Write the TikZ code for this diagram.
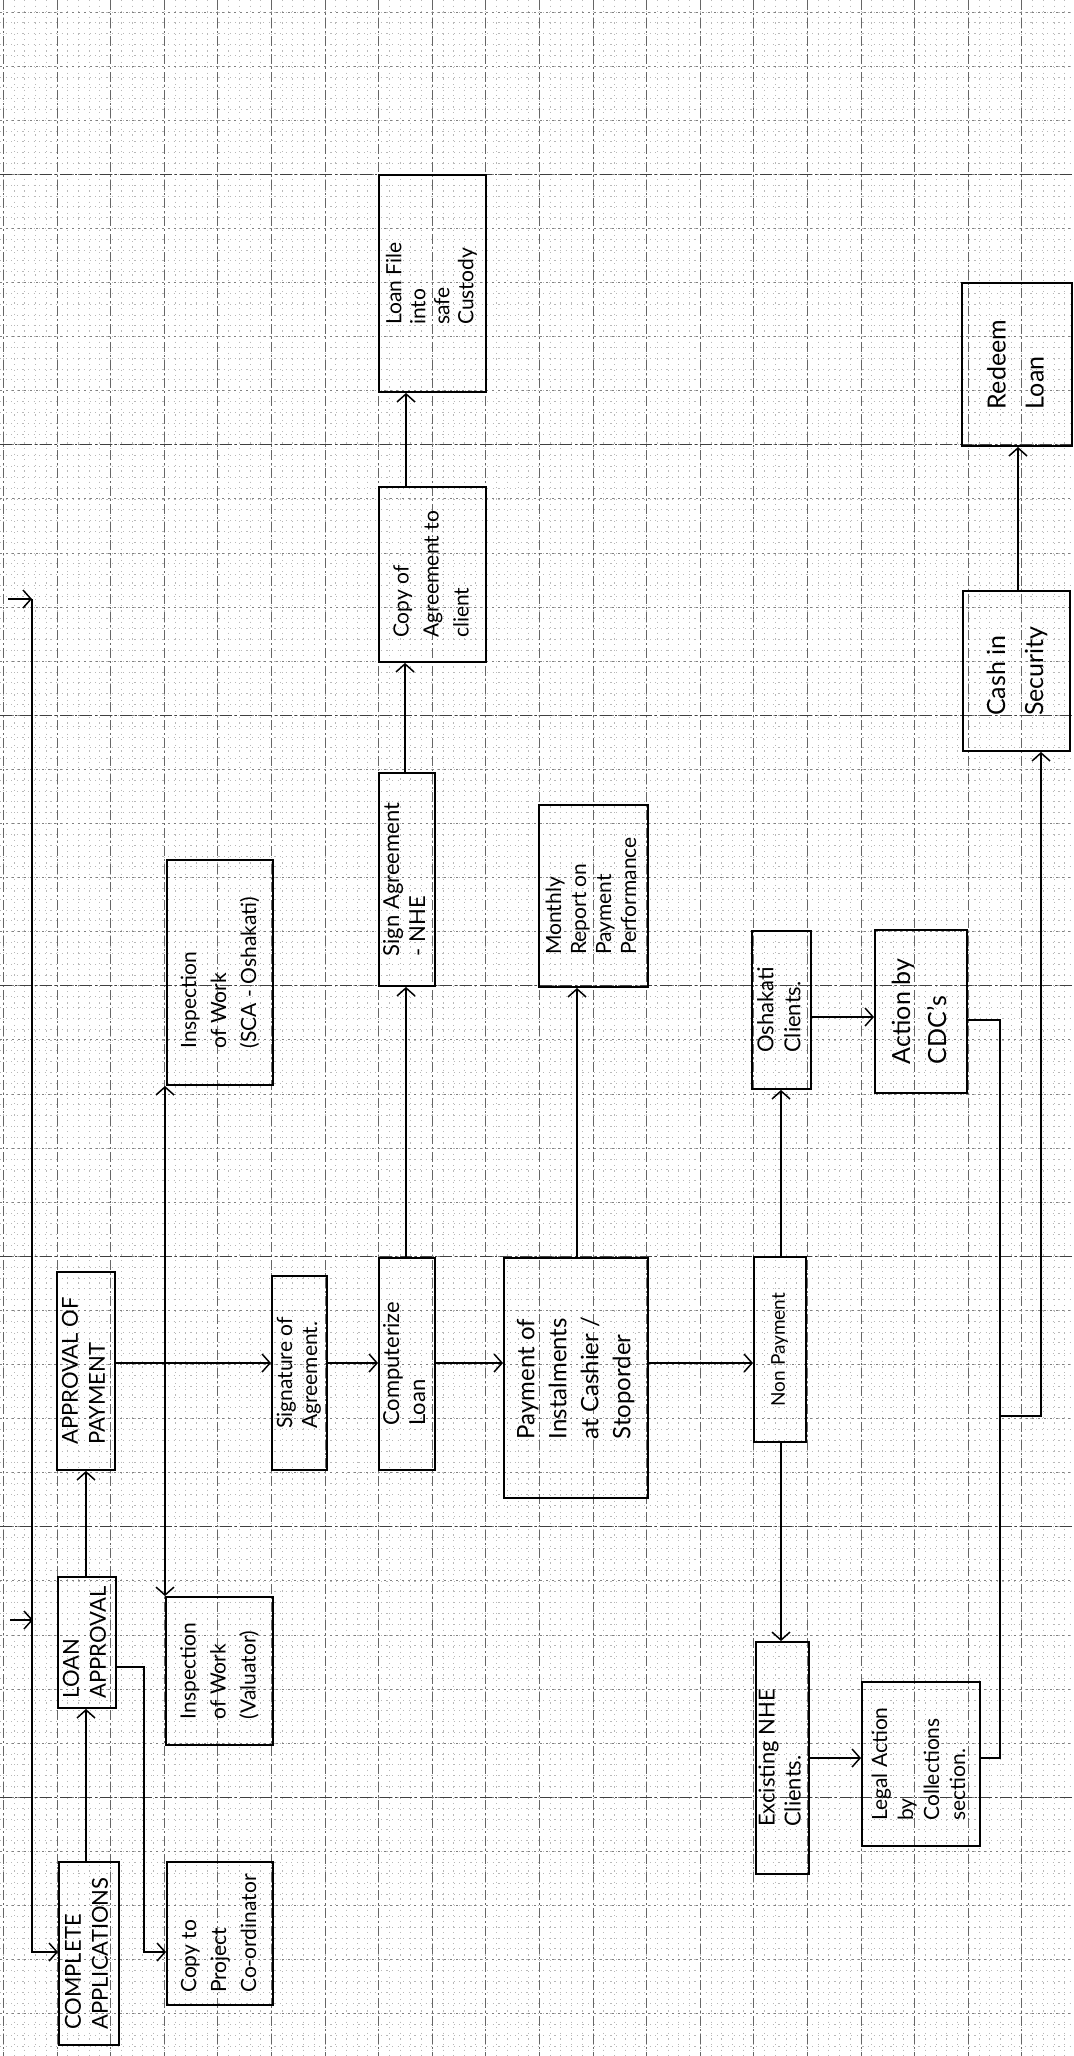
\documentclass[tikz,border=0pt]{standalone}
\usepackage{fontspec}
\setmainfont{Lato}
\usepackage{graphicx}
\usetikzlibrary{arrows.meta}
\tikzset{
  box/.style={draw=black, line width=0.95pt, rectangle, inner sep=0pt},
  conn/.style={line width=0.75pt, black},
  arr/.style={conn, -{Straight Barb[length=4pt,width=9pt,line width=0.75pt]}},
  vgrid/.style={black!60, line width=0.5pt, dash pattern=on 5pt off 1.5pt on 1pt off 1.5pt},
  hgrid/.style={black!50, line width=0.5pt, dash pattern=on 1.2pt off 1.8pt},
  hmajor/.style={black!75, line width=0.65pt, dash pattern=on 6pt off 1.5pt on 1pt off 1.5pt},
  fgrid/.style={black!28, line width=0.4pt, dash pattern=on 0.6pt off 2.2pt}
}
\newcommand{\bxn}[7]{%
  \node[box, minimum width={(#4-#2)*0.5pt}, minimum height={(#5-#3)*0.5pt}] (#1)
    at ({(#2+#4)/2},{(#3+#5)/2})
    {\rotatebox{90}{#6\begin{tabular}{@{}l@{}}#7\end{tabular}}};}
\begin{document}
\begin{tikzpicture}[x=0.5pt,y=-0.5pt]
\useasboundingbox (0,0) rectangle (1073,2056);
\fill[white] (0,0) rectangle (1073,2056);
% fine dotted grid
\foreach \k in {0,...,100} \draw[fgrid] ({3.4+10.72*\k},0) -- ({3.4+10.72*\k},2056);
\foreach \k in {0,...,191} \draw[fgrid] (0,{12+10.82*\k}) -- (1073,{12+10.82*\k});
% grid lines
\foreach \k in {0,...,20} \draw[vgrid] ({3.4+53.6*\k},0) -- ({3.4+53.6*\k},2056);
\foreach \k in {0,...,37} \draw[hgrid] (0,{12+54.1*\k}) -- (1073,{12+54.1*\k});
\foreach \k in {3,8,...,33} \draw[hmajor] (0,{12+54.1*\k}) -- (1073,{12+54.1*\k});

% boxes
\bxn{ca}{59}{1862}{119}{2045}{\fontsize{11}{13.5}\selectfont}{COMPLETE\\APPLICATIONS}
\bxn{cp}{167}{1862}{273}{2005}{\fontsize{10.5}{15}\selectfont}{Copy to\\Project\\Co-ordinator}
\bxn{la}{58}{1577}{116}{1708}{\fontsize{11}{13.5}\selectfont}{LOAN\\APPROVAL}
\bxn{ap}{57}{1272}{115}{1470}{\fontsize{11}{13.5}\selectfont}{APPROVAL OF\\PAYMENT}
\bxn{iv}{166}{1597}{273}{1745}{\fontsize{10.5}{15}\selectfont}{Inspection\\of Work\\(Valuator)}
\bxn{is}{167}{860}{273}{1085}{\fontsize{10.5}{15}\selectfont}{Inspection\\of Work\\(SCA - Oshakati)}
\bxn{sa}{272}{1276}{327}{1470}{\fontsize{10.5}{12.5}\selectfont}{Signature of\\Agreement.}
\bxn{cl}{379}{1258}{435}{1470}{\fontsize{11}{13}\selectfont}{Computerize\\Loan}
\bxn{sn}{379}{773}{435}{986}{\fontsize{11}{13}\selectfont}{Sign Agreement\\- NHE}
\bxn{co}{379}{487}{486}{662}{\fontsize{10.5}{15}\selectfont}{Copy of\\Agreement to\\client}
\bxn{lf}{379}{175}{486}{392}{\fontsize{10.5}{12}\selectfont}{Loan File\\into\\safe\\Custody}
\bxn{pi}{504}{1258}{648}{1498}{\fontsize{12}{16}\selectfont}{Payment of\\Instalments\\at Cashier /\\Stoporder}
\bxn{mr}{539}{805}{648}{987}{\fontsize{10.5}{12.5}\selectfont}{Monthly\\Report on\\Payment\\Performance}
\bxn{np}{754}{1257}{806}{1442}{\fontsize{9.5}{12}\selectfont}{Non Payment}
\bxn{oc}{752}{931}{811}{1089}{\fontsize{11}{13.5}\selectfont}{Oshakati\\Clients.}
\bxn{ac}{875}{930}{967}{1093}{\fontsize{12.5}{18}\selectfont}{Action by\\CDC's}
\bxn{ex}{756}{1642}{809}{1874}{\fontsize{11}{13}\selectfont}{Excisting NHE\\Clients.}
\bxn{lg}{862}{1682}{980}{1846}{\fontsize{10.5}{13}\selectfont}{Legal Action\\by\\Collections\\section.}
\bxn{cs}{963}{591}{1070}{751}{\fontsize{12.5}{19}\selectfont}{Cash in\\Security}
\bxn{rl}{962}{283}{1072}{446}{\fontsize{12.5}{19}\selectfont}{Redeem\\Loan}

% helper coordinates
\coordinate (x86) at (86,0);
\coordinate (x144) at (144,0);
\coordinate (j165) at (165,1363);
\coordinate (x405) at (405,0);
\coordinate (x406) at (406,0);
\coordinate (x577) at (577,0);
\coordinate (x781) at (781,0);
\coordinate (x1018) at (1018,0);
\coordinate (y1363) at (0,1363);
\coordinate (y1667) at (0,1667);
\coordinate (y1952) at (0,1952);
\coordinate (y1017) at (0,1017);
\coordinate (y1020) at (0,1020);
\coordinate (y1758) at (0,1758);
\coordinate (m1) at (1000,1416);
\coordinate (m2) at (1041,1416);
\coordinate (in0) at (8,599);
\coordinate (in1) at (32,599);
\coordinate (in2) at (10,1620);
\coordinate (in3) at (33,1620);

% connectors
\draw[arr] (in0) -- (in1);
\draw[arr] (in1) |- (ca.west |- y1952);
\draw[arr] (in2) -- (in3);
\draw[arr] (ca.north -| x86) -- (la.south -| x86);
\draw[arr] (la.north -| x86) -- (ap.south -| x86);
\draw[arr] (la.east |- y1667) -- (x144 |- y1667) -- (x144 |- y1952) -- (cp.west |- y1952);
\draw[arr] (ap.east |- y1363) -- (sa.west |- y1363);
\draw[arr] (j165) -- (is.south -| j165);
\draw[arr] (j165) -- (iv.north -| j165);
\draw[arr] (sa.east |- y1363) -- (cl.west |- y1363);
\draw[arr] (cl.north -| x406) -- (sn.south -| x406);
\draw[arr] (sn.north -| x405) -- (co.south -| x405);
\draw[arr] (co.north -| x406) -- (lf.south -| x406);
\draw[arr] (cl.east |- y1363) -- (pi.west |- y1363);
\draw[arr] (pi.north -| x577) -- (mr.south -| x577);
\draw[arr] (pi.east |- y1363) -- (np.west |- y1363);
\draw[arr] (np.north -| x781) -- (oc.south -| x781);
\draw[arr] (np.south -| x781) -- (ex.north -| x781);
\draw[arr] (oc.east |- y1017) -- (ac.west |- y1017);
\draw[arr] (ex.east |- y1758) -- (lg.west |- y1758);
\draw[conn] (ac.east |- y1020) -| (m1);
\draw[conn] (lg.east |- y1758) -| (m1);
\draw[arr] (m1) -- (m2) -- (cs.south -| m2);
\draw[arr] (cs.north -| x1018) -- (rl.south -| x1018);
\end{tikzpicture}
\end{document}
